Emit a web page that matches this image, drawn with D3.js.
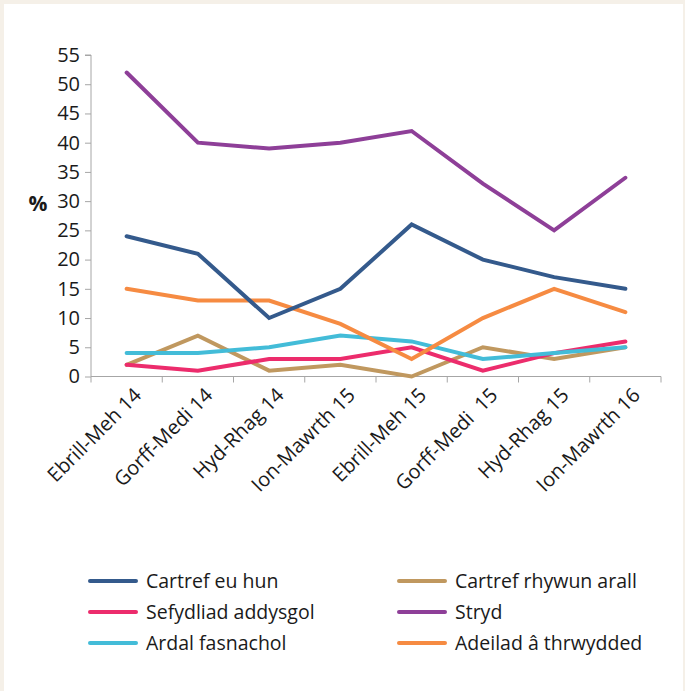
<!DOCTYPE html>
<html><head><meta charset="utf-8">
<script src="https://cdn.jsdelivr.net/npm/d3@7"></script>
<style>
body{margin:0;background:#f5f0e8;}
svg{display:block;}
text{font-family:"Open Sans","Noto Sans",sans-serif;fill:#1a1a1a;}
</style></head><body>
<svg id="c" width="685" height="691"></svg>
<script>
const categories = ["Ebrill-Meh 14","Gorff-Medi 14","Hyd-Rhag 14","Ion-Mawrth 15","Ebrill-Meh 15","Gorff-Medi  15","Hyd-Rhag 15","Ion-Mawrth 16"];
const yTicks = [0,5,10,15,20,25,30,35,40,45,50,55];
const seriesNames = ["Cartref eu hun","Cartref rhywun arall","Sefydliad addysgol","Stryd","Ardal fasnachol","Adeilad â thrwydded"];
const cartrefEuHun = [24,21,10,15,26,20,17,15];
const cartrefRhywunArall = [2,7,1,2,0,5,3,5];
const sefydliadAddysgol = [2,1,3,3,5,1,4,6];
const stryd = [52,40,39,40,42,33,25,34];
const ardalFasnachol = [4,4,5,7,6,3,4,5];
const adeilad = [15,13,13,9,3,10,15,11];
const colors = ["#345a8c","#c0985f","#ec2c6c","#8e3f98","#43bcd8","#f68b42"];

const values = [cartrefEuHun,cartrefRhywunArall,sefydliadAddysgol,stryd,ardalFasnachol,adeilad];
const svg = d3.select("#c");
svg.append("rect").attr("x",4).attr("y",4).attr("width",679).attr("height",687).attr("fill","#fff");

const L=91,R=661,T=55,B=376.5;
const x = d3.scaleBand().domain(categories).range([L,R]);
const y = d3.scaleLinear().domain([0,55]).range([B,T]);
const axisColor="#a6a6a6";

// y axis
const ya = svg.append("g").attr("transform",`translate(${L},0)`)
  .call(d3.axisLeft(y).tickValues(yTicks).tickSize(6).tickPadding(5));
ya.select(".domain").attr("stroke",axisColor).attr("d",`M-6,${T}H0V${B}`);
ya.selectAll(".tick line").attr("stroke",axisColor);
ya.selectAll(".tick text").style("font-size","20px").attr("fill","#1a1a1a");

// x axis
const xa = svg.append("g").attr("transform",`translate(0,${B})`)
  .call(d3.axisBottom(x).tickSize(0).tickFormat(""));
xa.select(".domain").attr("stroke",axisColor).attr("d",`M${L},0H${R}`);
const bounds = categories.map(c=>x(c)).concat([R]);
xa.selectAll(".bline").data(bounds).enter().append("line")
  .attr("x1",d=>d).attr("x2",d=>d).attr("y1",0).attr("y2",6).attr("stroke",axisColor);
xa.selectAll(".xl").data(categories).enter().append("text")
  .attr("transform",d=>`translate(${x(d)+x.bandwidth()/2+11},${15}) rotate(-45)`)
  .attr("text-anchor","end").attr("dy","0.35em")
  .style("font-size","20px").style("white-space","pre").text(d=>d);

svg.append("text").attr("x",38).attr("y",204).attr("text-anchor","middle").attr("dy","0.35em")
  .style("font-size","21px").style("font-weight","bold").text("%");

const line = d3.line().x((d,i)=>x(categories[i])+x.bandwidth()/2).y(d=>y(d));
const order=[1,2,4,5,0,3];
order.forEach(k=>{
  svg.append("path").attr("d",line(values[k])).attr("fill","none")
    .attr("stroke",colors[k]).attr("stroke-width",4).attr("stroke-linecap","round").attr("stroke-linejoin","miter");
});

// legend
const lg = svg.append("g");
seriesNames.forEach((n,i)=>{
  const col=i%2,row=Math.floor(i/2);
  const lx = col===0?90:399, ly = 581+row*31;
  lg.append("line").attr("x1",lx).attr("x2",lx+46).attr("y1",ly).attr("y2",ly)
    .attr("stroke",colors[i]).attr("stroke-width",4).attr("stroke-linecap","round");
  lg.append("text").attr("x",lx+56).attr("y",ly).attr("dy","0.35em")
    .style("font-size","19.5px").text(n);
});
</script></body></html>
